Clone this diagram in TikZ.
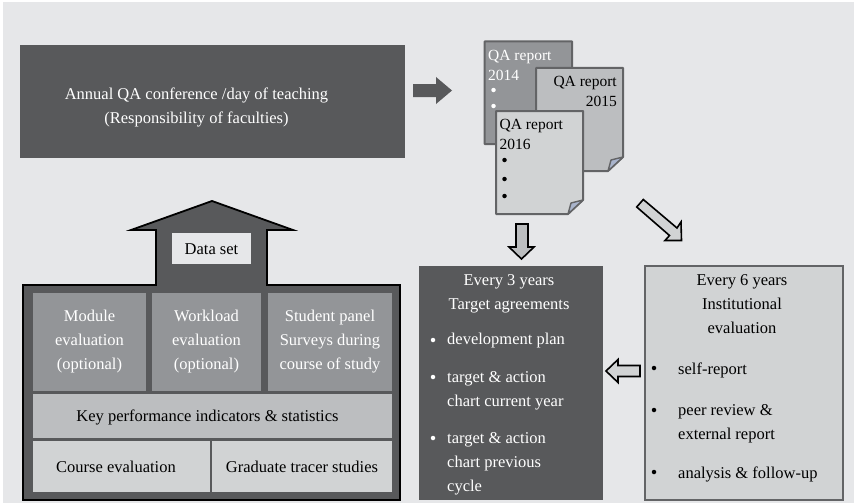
\documentclass[tikz,border=0pt]{standalone}
\usepackage{fontspec}
\setmainfont{Liberation Serif}
\definecolor{bg}{HTML}{E6E7E9}
\definecolor{dk}{HTML}{58595B}
\definecolor{md}{HTML}{939598}
\definecolor{lm}{HTML}{BCBEC0}
\definecolor{lt}{HTML}{D1D3D4}
\definecolor{edge}{HTML}{636466}
\definecolor{foldc}{HTML}{A9B4CC}
\tikzset{
 txt/.style={font=\fontsize{16.5}{24}\selectfont,align=center,inner sep=0pt},
 txl/.style={font=\fontsize{16.5}{24}\selectfont,align=left,inner sep=0pt,anchor=west},
 rpt/.style={font=\fontsize{15.5}{20}\selectfont,inner sep=0pt},
 wh/.style={text=white},
 blk/.style={text=black},
 page/.style={draw=edge,line width=2pt,line join=round},
 blockarrow/.style={draw=black,line width=1.6pt,fill=lt,miter limit=10},
 bul/.style={circle,inner sep=0pt,minimum size=4.5pt},
}
\newcommand{\rct}[6]{\node[minimum width=#4-#2,minimum height=#5-#3,inner sep=0pt,outer sep=0pt,fill=#6] (#1) at ({(#2+#4)/2},{(#3+#5)/2}) {};}
\newcommand{\rptpage}[6]{% name x0 y0 x1 y1 fill
  \draw[page,fill=#6] (#2,#3) -- (#4,#3) -- (#4,#5-14) -- (#4-15,#5) -- (#2,#5) -- cycle;
  \draw[page,line width=1.4pt,fill=foldc] (#4,#5-14) -- (#4-12,#5-11) -- (#4-15,#5) -- cycle;
}
\begin{document}
\begin{tikzpicture}[x=1pt,y=-1pt]
\useasboundingbox (0,0) rectangle (854,503);
\fill[white] (0,0) rectangle (854,503);
\fill[bg] (3,2) rectangle (854,503);
% top box
\rct{annual}{20}{45}{405}{158}{dk}
\node[txt,wh] (annualtxt) at (196.5,107) {Annual QA conference /day of teaching\\(Responsibility of faculties)};
\fill[dk] (413,84) -- (436,84) -- (436,77) -- (452,90.5) -- (436,104) -- (436,97) -- (413,97) -- cycle;
% reports
\rptpage{r14}{484.5}{41.5}{572}{144}{md}
\node[rpt,align=left,anchor=west,wh] (t14) at (488,65) {QA report\\2014};
\node[bul,fill=white] (b14a) at (493.5,90) {};
\node[bul,fill=white] (b14b) at (493.5,106) {};
\rptpage{r15}{536}{68}{623}{171}{lm}
\node[rpt,align=right,anchor=east,blk] (t15) at (617,91) {QA report\\2015};
\rptpage{r16}{496}{111}{583}{214}{lt}
\node[rpt,align=left,anchor=west,blk] (t16) at (499.5,134.5) {QA report\\2016};
\node[bul,fill=black] (b16a) at (504.5,160) {};
\node[bul,fill=black] (b16b) at (504.5,179) {};
\node[bul,fill=black] (b16c) at (504.5,196) {};
% arrows
\draw[blockarrow,fill=lm] (516,224) -- (528,224) -- (528,247) -- (534,247) -- (521.5,259) -- (509,247) -- (516,247) -- cycle;
\draw[blockarrow] (636.7,207) -- (643.3,199.5) -- (677,228) -- (681,222) -- (681.5,240.5) -- (665,240.5) -- (669.5,235.5) -- cycle;
\draw[blockarrow] (640,365.5) -- (618,365.5) -- (618,359.5) -- (606,371) -- (618,382.5) -- (618,376.5) -- (640,376.5) -- cycle;
% house
\draw[draw=black,line width=1.8pt,fill=dk,miter limit=10] (23,285) -- (156,285) -- (156,230) -- (131,230) -- (212,201) -- (293,230) -- (267,230) -- (267,285) -- (400,285) -- (400,500) -- (23,500) -- cycle;
\rct{data}{172}{233}{251}{264}{bg}
\node[txt,blk] (datat) at (211.5,249.5) {Data set};
\rct{mod}{33}{293}{146}{391}{md}
\rct{wrk}{152}{293}{261}{391}{md}
\rct{stu}{268}{293}{392}{391}{md}
\node[txt,wh] (modt) at (mod) {Module\\evaluation\\(optional)};
\node[txt,wh] (wrkt) at (wrk) {Workload\\evaluation\\(optional)};
\node[txt,wh] (stut) at (stu) {Student panel\\Surveys during\\course of study};
\rct{kpi}{33}{393.5}{392}{438}{lm}
\node[txt,blk] (kpit) at (207.5,417.5) {Key performance indicators \& statistics};
\rct{crs}{33}{441}{210}{492}{lt}
\rct{grd}{212}{441}{392}{492}{lt}
\node[txt,blk] (crst) at (116,467) {Course evaluation};
\node[txt,blk] (grdt) at (302,467) {Graduate tracer studies};
% target agreements
\rct{tgt}{419}{266}{603}{500}{dk}
\node[txt,wh] (tgth) at (509,294) {Every 3 years\\Target agreements};
\node[bul,fill=white] (ba) at (433,340) {};
\node[txl,wh] (ta) at (447,341) {development plan};
\node[bul,fill=white] (bb) at (433,377) {};
\node[txl,wh] (tb) at (447,390.5) {target \& action\\chart current year};
\node[bul,fill=white] (bc) at (433,438) {};
\node[txl,wh] (tc) at (447,464) {target \& action\\chart previous\\cycle};
% institutional
\draw[draw=edge,line width=2pt,fill=lt] (645,266) rectangle (843,500);
\node[txt,blk] (insth) at (742,304) {Every 6 years\\Institutional\\evaluation};
\node[bul,fill=black] (bd) at (654,368) {};
\node[txl,blk] (td) at (678,370) {self-report};
\node[bul,fill=black] (be) at (654,410) {};
\node[txl,blk] (te) at (678,424) {peer review \&\\external report};
\node[bul,fill=black] (bf) at (654,472) {};
\node[txl,blk] (tf) at (678,474) {analysis \& follow-up};
\end{tikzpicture}
\end{document}
